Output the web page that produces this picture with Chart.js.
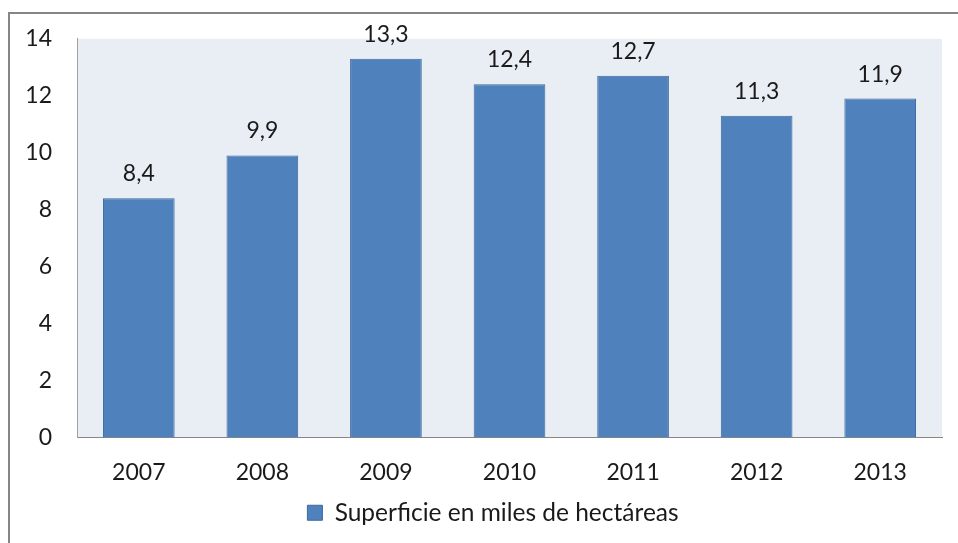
<!DOCTYPE html>
<html>
<head>
<meta charset="utf-8">
<script src="https://cdn.jsdelivr.net/npm/chart.js@4"></script>
<style>
  html, body { margin: 0; padding: 0; background: #fff; }
</style>
</head>
<body>
<canvas id="bar-chart" width="958" height="543"></canvas>
<script>
const years = ["2007", "2008", "2009", "2010", "2011", "2012", "2013"];
const superficie = [8.4, 9.9, 13.3, 12.4, 12.7, 11.3, 11.9];
const seriesLabel = "Superficie en miles de hectáreas";
const yTicks = [0, 2, 4, 6, 8, 10, 12, 14];

const fontFamily = "Lato, 'Open Sans', sans-serif";

// frame + light plot background
const backgroundPlugin = {
  id: "background",
  afterLayout(chart) {
    // legend sits a bit right of centre in the original
    chart.legend.left += 22;
    chart.legend.right += 22;
  },
  beforeDraw(chart) {
    const { ctx, chartArea } = chart;
    ctx.save();
    ctx.strokeStyle = "#868686";
    ctx.lineWidth = 2;
    ctx.strokeRect(9, 13, 1200, 1200);
    ctx.fillStyle = "#e9edf4";
    ctx.fillRect(chartArea.left, chartArea.top, chartArea.right - chartArea.left, chartArea.bottom - chartArea.top);
    ctx.restore();
  },
};

// value labels above the bars, with comma decimals
const valueLabels = {
  id: "valueLabels",
  afterDatasetsDraw(chart) {
    const { ctx } = chart;
    const meta = chart.getDatasetMeta(0);
    ctx.save();
    ctx.font = "23px " + fontFamily;
    ctx.fillStyle = "#1a1a1a";
    ctx.textAlign = "center";
    ctx.textBaseline = "bottom";
    meta.data.forEach((bar, i) => {
      const text = superficie[i].toFixed(1).replace(".", ",");
      ctx.fillText(text, bar.x, bar.y - 13);
    });
    ctx.restore();
  },
};

new Chart(document.getElementById("bar-chart").getContext("2d"), {
  type: "bar",
  data: {
    labels: years,
    datasets: [
      {
        label: seriesLabel,
        data: superficie,
        backgroundColor: "#4f81bd",
        borderColor: "#3c6a9e",
        borderWidth: 1,
        categoryPercentage: 0.58,
        barPercentage: 1,
      },
    ],
  },
  options: {
    responsive: false,
    animation: false,
    devicePixelRatio: 1,
    layout: {
      padding: { left: 0, right: 16, top: 38, bottom: 8 },
    },
    scales: {
      x: {
        grid: { display: false, drawTicks: false },
        border: { color: "#868686", width: 1 },
        ticks: {
          color: "#1a1a1a",
          font: { family: fontFamily, size: 23 },
          padding: 21,
        },
        afterFit(scale) {
          scale.height = 53;
        },
      },
      y: {
        min: 0,
        max: 14,
        afterBuildTicks(scale) {
          scale.ticks = yTicks.map((v) => ({ value: v }));
        },
        grid: { display: false, drawTicks: false },
        border: { color: "#a0a0a0", width: 1 },
        ticks: {
          color: "#1a1a1a",
          font: { family: fontFamily, size: 23 },
          padding: 25,
        },
        afterFit(scale) {
          scale.width = 77;
        },
      },
    },
    plugins: {
      legend: {
        position: "bottom",
        labels: {
          color: "#1a1a1a",
          font: { family: fontFamily, size: 24.5 },
          boxWidth: 15,
          boxHeight: 15,
          padding: 10,
        },
      },
      title: { display: false },
      tooltip: { enabled: false },
    },
  },
  plugins: [backgroundPlugin, valueLabels],
});
</script>
</body>
</html>
